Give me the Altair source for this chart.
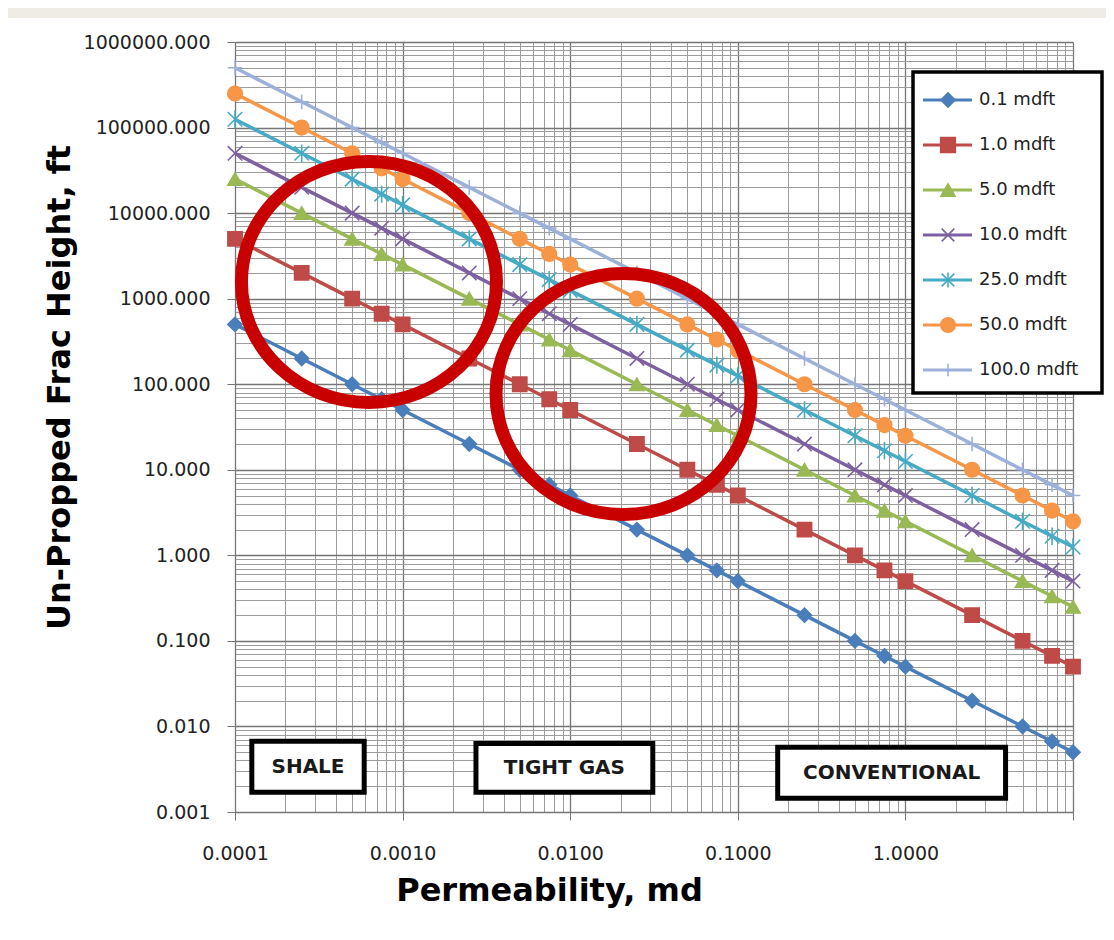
import altair as alt
import pandas as pd

# ---------------- data ----------------
SERIES = ["0.1 mdft", "1.0 mdft", "5.0 mdft", "10.0 mdft", "25.0 mdft", "50.0 mdft", "100.0 mdft"]
PERM = [0.0001, 0.00025, 0.0005, 0.00075, 0.001, 0.0025, 0.005, 0.0075, 0.01,
        0.025, 0.05, 0.075, 0.1, 0.25, 0.5, 0.75, 1, 2.5, 5, 7.5, 10]

H_01 = [500, 200, 100, 66.7, 50, 20, 10, 6.67, 5, 2, 1, 0.667, 0.5, 0.2, 0.1,
        0.0667, 0.05, 0.02, 0.01, 0.00667, 0.005]
H_1 = [5000, 2000, 1000, 667, 500, 200, 100, 66.7, 50, 20, 10, 6.67, 5, 2, 1,
       0.667, 0.5, 0.2, 0.1, 0.0667, 0.05]
H_5 = [25000, 10000, 5000, 3333, 2500, 1000, 500, 333, 250, 100, 50, 33.3, 25,
       10, 5, 3.33, 2.5, 1, 0.5, 0.333, 0.25]
H_10 = [50000, 20000, 10000, 6667, 5000, 2000, 1000, 667, 500, 200, 100, 66.7,
        50, 20, 10, 6.67, 5, 2, 1, 0.667, 0.5]
H_25 = [125000, 50000, 25000, 16667, 12500, 5000, 2500, 1667, 1250, 500, 250,
        167, 125, 50, 25, 16.7, 12.5, 5, 2.5, 1.67, 1.25]
H_50 = [250000, 100000, 50000, 33333, 25000, 10000, 5000, 3333, 2500, 1000, 500,
        333, 250, 100, 50, 33.3, 25, 10, 5, 3.33, 2.5]
H_100 = [500000, 200000, 100000, 66667, 50000, 20000, 10000, 6667, 5000, 2000,
         1000, 667, 500, 200, 100, 66.7, 50, 20, 10, 6.67, 5]
HEIGHTS = [H_01, H_1, H_5, H_10, H_25, H_50, H_100]

X_TICKS = [0.0001, 0.001, 0.01, 0.1, 1, 10]
Y_TICKS = [0.001, 0.01, 0.1, 1, 10, 100, 1000, 10000, 100000, 1000000]

BOX_LABELS = ["SHALE", "TIGHT GAS", "CONVENTIONAL"]
BOX_K_LEFT = [1.26e-4, 2.74e-3, 0.173]
BOX_K_RIGHT = [5.9e-4, 0.0311, 3.96]
BOX_H_TOP = [6.7e-3, 6.3e-3, 5.7e-3]
BOX_H_BOTTOM = [1.7e-3, 1.7e-3, 1.45e-3]

RING_K = [6.3e-4, 0.0208]
RING_H = [1570, 77]

# ---------------- styles ----------------
COLORS = ["#4A7EBB", "#BE4B48", "#98B954", "#7D60A0", "#46AAC5", "#F79646", "#9DB0DA"]
SHAPES = ["diamond", "square", "triangle-up",
          "M -1 -1 L 1 1 M -1 1 L 1 -1",
          "M -1 -1 L 1 1 M -1 1 L 1 -1 M 0 -1.2 L 0 1.2",
          "circle",
          "M -1 0 L 1 0 M 0 -1 L 0 1"]
SIZES = [200, 215, 200, 160, 160, 210, 160]
FONT = "DejaVu Sans"
RING_PATH = "M -1 0 A 1 0.945 0 1 0 1 0 A 1 0.945 0 1 0 -1 0 Z"

rows = []
for s, hs in zip(SERIES, HEIGHTS):
    for k, h in zip(PERM, hs):
        rows.append({"series": s, "k": k, "h": h})
df = pd.DataFrame(rows)

x_grid = sorted(set([m * d for d in X_TICKS[:-1] for m in range(1, 10)] + [X_TICKS[-1]]))
y_grid = sorted(set([m * d for d in Y_TICKS[:-1] for m in range(1, 10)] + [Y_TICKS[-1]]))

MAJOR = "abs(log(datum.value)/LN10 - round(log(datum.value)/LN10)) < 0.01"

x_scale = alt.Scale(type="log", domain=[0.0001, 10], nice=False)
y_scale = alt.Scale(type="log", domain=[0.001, 1000000], nice=False)
stroke_scale = alt.Scale(domain=SERIES, range=COLORS)
shape_scale = alt.Scale(domain=SERIES, range=SHAPES)
size_scale = alt.Scale(domain=SERIES, range=SIZES)

common_axis = dict(
    grid=True,
    gridColor={"condition": {"test": MAJOR, "value": "#767676"}, "value": "#9c9c9c"},
    gridWidth={"condition": {"test": MAJOR, "value": 1.3}, "value": 1},
    tickOpacity={"condition": {"test": MAJOR, "value": 1}, "value": 0},
    tickColor="#767676",
    tickSize=8,
    domainColor="#767676",
    labelFont=FONT,
    labelFontSize=19,
    labelColor="#222222",
    labelOverlap=False,
    labelFlush=False,
    titleFont=FONT,
    titleFontSize=32,
    titleFontWeight="bold",
    titleColor="#000000",
    titleBaseline="alphabetic",
)

x_axis = alt.Axis(
    values=x_grid,
    labelExpr="(" + MAJOR + ") && datum.value < 5 ? format(datum.value, '.4f') : ''",
    title="Permeability, md",
    labelBaseline="middle",
    labelPadding=33,
    titleX=314,
    titleY=88,
    **common_axis,
)
y_axis = alt.Axis(
    values=y_grid,
    labelExpr="(" + MAJOR + ") ? format(datum.value, '.3f') : ''",
    title="Un-Propped Frac Height, ft",
    labelPadding=17,
    titleX=-166,
    titleY=345,
    titleAngle=270,
    **common_axis,
)

X = lambda f: alt.X(f, scale=x_scale, axis=x_axis)
Y = lambda f: alt.Y(f, scale=y_scale, axis=y_axis)

base = alt.Chart(df)

lines = base.mark_line(strokeWidth=3.5).encode(
    x=X("k:Q"),
    y=Y("h:Q"),
    stroke=alt.Stroke("series:N", scale=stroke_scale, legend=None),
    order="k:Q",
)

points = base.mark_point(filled=True, strokeWidth=1.6, opacity=1).encode(
    x=X("k:Q"),
    y=Y("h:Q"),
    fill=alt.Fill("series:N", scale=stroke_scale, legend=None),
    stroke=alt.Stroke("series:N", scale=stroke_scale, legend=None),
    shape=alt.Shape("series:N", scale=shape_scale, legend=None),
    size=alt.Size("series:N", scale=size_scale, legend=None),
)

# text boxes
box_df = pd.DataFrame({"label": BOX_LABELS, "k": BOX_K_LEFT, "kr": BOX_K_RIGHT,
                       "h": BOX_H_TOP, "hb": BOX_H_BOTTOM})
boxes = alt.Chart(box_df).mark_rect(fill="white", stroke="black", strokeWidth=5).encode(
    x=X("k:Q"), x2="kr:Q",
    y=Y("h:Q"), y2="hb:Q",
)
box_text = alt.Chart(box_df).transform_calculate(
    k="sqrt(datum.k*datum.kr)", h="sqrt(datum.h*datum.hb)"
).mark_text(font=FONT, fontSize=20, fontWeight="bold", color="#1a1a1a",
            align="center", baseline="middle").encode(
    x=X("k:Q"), y=Y("h:Q"), text="label:N",
)

# red rings
ring_df = pd.DataFrame({"k": RING_K, "h": RING_H})
rings = alt.Chart(ring_df).mark_point(
    shape=RING_PATH, size=65025, stroke="#C80000", strokeWidth=13,
    filled=False, opacity=1, clip=False,
).encode(x=X("k:Q"), y=Y("h:Q"))

# legend (drawn by hand so that line + marker are shown)
one = pd.DataFrame({"a": [0]})
legend_layers = [
    alt.Chart(one).mark_rect(fill="white", stroke="black", strokeWidth=3.5, clip=False).encode(
        x=alt.value(678), x2=alt.value(867), y=alt.value(30), y2=alt.value(351))
]
for i, (s, c, shp, sz) in enumerate(zip(SERIES, COLORS, SHAPES, SIZES)):
    yy = 58 + 45 * i
    legend_layers.append(alt.Chart(one).mark_rule(strokeWidth=3, color=c, clip=False).encode(
        x=alt.value(688), x2=alt.value(737), y=alt.value(yy)))
    legend_layers.append(alt.Chart(one).mark_point(
        filled=True, fill=c, stroke=c, strokeWidth=1.6, opacity=1, shape=shp, size=sz,
        clip=False).encode(x=alt.value(713), y=alt.value(yy)))
    legend_layers.append(alt.Chart(one).mark_text(
        font=FONT, fontSize=18, color="#222222", align="left", baseline="middle",
        clip=False).encode(x=alt.value(744), y=alt.value(yy), text=alt.value(s)))

# slide's grey strip at the top
band = alt.Chart(one).mark_rect(fill="#EEECE4", clip=False).encode(
    x=alt.value(-227), x2=alt.value(871), y=alt.value(-34), y2=alt.value(-24)
)

chart = alt.layer(
    band, lines, points, boxes, box_text, *legend_layers, rings
).properties(
    width=838, height=770,
    autosize=alt.AutoSizeParams(type="none"),
    padding={"left": 227, "top": 34, "right": 33, "bottom": 120},
    background="white",
).configure_view(stroke=None)

chart.save("out.html", embed_options={"renderer": "svg", "actions": False})
